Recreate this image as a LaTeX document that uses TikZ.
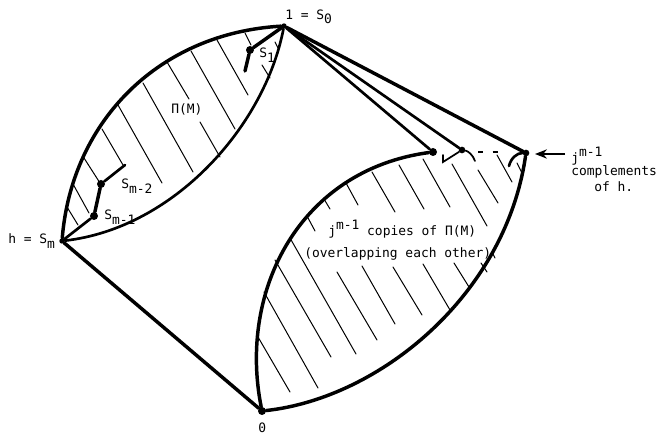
\documentclass[tikz,border=0pt]{standalone}
\usepackage{fontspec}
\setmonofont{DejaVu Sans Mono}
\usetikzlibrary{arrows.meta}
\newcommand{\lowr}[1]{\raisebox{-0.35em}{#1}}
\newcommand{\uppr}[1]{\raisebox{0.5em}{#1}}
\tikzset{
  thickline/.style={line width=2.6pt,line cap=round,line join=round},
  midline/.style={line width=2pt,line cap=round,line join=round},
  hatch/.style={line width=0.75pt,line cap=round},
  blob/.style={circle,fill=black,inner sep=0pt,minimum size=6pt},
  lbl/.style={font=\ttfamily\fontsize{9.7pt}{11pt}\selectfont,inner sep=0pt,anchor=west,align=left}
}
\begin{document}
\begin{tikzpicture}[x=0.75pt,y=-0.75pt]
\useasboundingbox[fill=white] (0,0) rectangle (660,434);
% vertices
\node[blob,minimum size=4pt] (top) at (284,26) {};
\node[blob,minimum size=4pt] (h) at (62,241) {};
\node[blob] (zero) at (262,411) {};
\node[blob,minimum size=5pt] (corner) at (526,153) {};
\node[blob] (b1) at (433,152) {};
\node[blob,minimum size=5pt] (b2) at (462,150) {};
\node[blob] (s1) at (250,50) {};
\node[blob] (sa) at (94,216) {};
\node[blob] (sb) at (101,184) {};
\coordinate (s1end) at (245,71);
\coordinate (sbend) at (125,165);
\coordinate (arrowtail) at (565,154);
\coordinate (arrowhead) at (535,154);
\coordinate (w0) at (443,162);
\coordinate (w1) at (475,161);
\coordinate (d0) at (478,152);
\coordinate (d1) at (505,152);
\coordinate (c0) at (509,166);
% hatching upper lens
\foreach \a/\b/\c/\d in {245/33/251/45, 217/40/248/95, 191/51/235/129, 167/62/189/99, 200/122/220/157, 143/83/193/172, 118/105/162/183, 102/129/123/165, 84/158/100/183, 73/184/89/213, 67/207/78/225, 262/65/270/78, 275/42/278/48}
  \draw[hatch] (\a,\b) -- (\c,\d);
% hatching lower lens
\foreach \a/\b/\c/\d in {258/337/290/392, 264/292/318/388, 275/260/331/357, 290/238/356/354, 307/216/315/231, 324/199/330/209, 346/183/358/205, 372/172/395/212, 399/165/424/209, 423/159/450/207, 452/164/487/226, 478/170/498/203, 497/155/512/182, 517/163/522/173, 337/272/377/340, 362/266/395/324, 393/267/422/315, 423/264/450/310, 454/263/469/287, 481/263/487/272, 492/252/495/258}
  \draw[hatch] (\a,\b) -- (\c,\d);
% upper lens
\draw[thickline] (h) .. controls (72,120) and (160,33) .. (top);
\draw[midline] (top) .. controls (265,125) and (175,228) .. (h);
% lower lens
\draw[thickline] (zero) .. controls (238,290) and (300,170) .. (b1);
\draw[thickline] (zero) .. controls (380,398) and (505,295) .. (corner);
% straight edges
\draw[thickline] (h) -- (zero);
\draw[thickline] (top) -- (corner);
\draw[midline] (top) -- (b1);
\draw[midline] (top) -- (b2);
% chains
\draw[thickline] (top) -- (s1) -- (s1end);
\draw[midline] (h) -- (sa);
\draw[thickline] (sa) -- (sb);
\draw[midline] (sb) -- (sbend);
% small complements
\draw[line width=1.3pt,line cap=round] (443,155) -- (w0) -- (b2);
\draw[line width=1.3pt,line cap=round] (b2) .. controls (468,151) and (473,155) .. (w1);
\draw[line width=1.6pt,dash pattern=on 4pt off 7pt] (d0) -- (d1);
\draw[midline] (c0) .. controls (511,158) and (517,153) .. (corner);
% arrow
\draw[line width=1pt,-{Stealth[length=9pt,width=7pt]}] (arrowtail) -- (arrowhead);
% labels
\node[lbl] (ltop) at (285,17) {1 = S\lowr{0}};
\node[lbl] (lh) at (8,241) {h = S\lowr{m}};
\node[lbl] (ls1) at (259,55) {S\lowr{1}};
\node[lbl] (lpi) at (171,109) {Π(M)};
\node[lbl] (lsb) at (121,186) {S\lowr{m-2}};
\node[lbl] (lsa) at (104,217) {S\lowr{m-1}};
\node[lbl] (lj) at (328,229) {j\uppr{m-1} copies of Π(M)};
\node[lbl] (lov) at (304,254) {(overlapping each other)};
\node[lbl] (lzero) at (258,428) {0};
\node[lbl] (lr1) at (571,156) {j\uppr{m-1}};
\node[lbl] (lr2) at (571,172) {complements};
\node[lbl] (lr3) at (594,187) {of h.};
\end{tikzpicture}
\end{document}
